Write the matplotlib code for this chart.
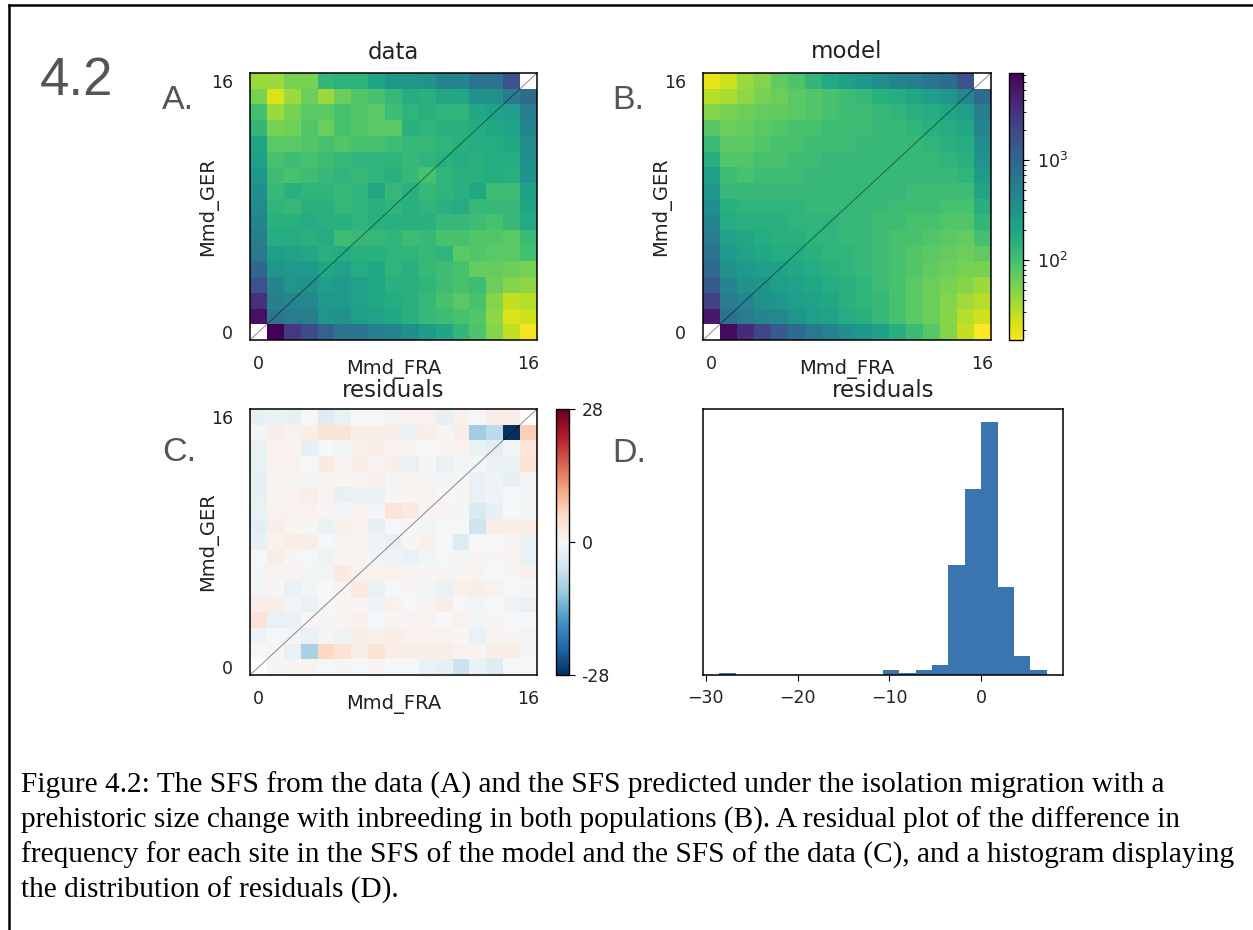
import numpy as np
import matplotlib.pyplot as plt
from matplotlib.colors import LogNorm, Normalize
from matplotlib.lines import Line2D

M = np.nan  # fixed-site corners, masked out

# log10 of site counts; rows run from Mmd_GER = 16 (top) down to 0
data_log10 = [
    [1.6, 1.6, 1.75, 1.75, 2.1, 2.15, 2.15, 2.3, 2.45, 2.45, 2.5, 2.7, 2.65, 2.85, 2.85, 3.2, M],
    [1.75, 1.35, 1.6, 1.8, 1.6, 1.8, 1.93, 1.98, 2.08, 2.23, 2.18, 2.28, 2.28, 2.53, 2.53, 2.77, 2.95],
    [2.0, 1.6, 1.75, 1.88, 1.88, 1.98, 1.93, 1.88, 2.03, 2.13, 2.18, 2.13, 2.13, 2.28, 2.33, 2.38, 2.75],
    [2.1, 1.75, 1.78, 1.93, 1.8, 1.98, 1.93, 1.88, 1.88, 2.18, 2.13, 2.18, 2.18, 2.23, 2.28, 2.33, 2.65],
    [2.3, 1.88, 1.88, 1.93, 1.98, 1.93, 1.98, 1.98, 2.03, 2.08, 2.08, 2.13, 2.18, 2.23, 2.23, 2.28, 2.6],
    [2.35, 1.98, 2.03, 1.98, 2.03, 2.08, 2.13, 2.13, 2.13, 2.08, 2.13, 2.18, 2.23, 2.18, 2.23, 2.23, 2.55],
    [2.45, 2.03, 1.98, 2.03, 2.08, 2.13, 2.08, 2.13, 2.18, 2.08, 1.98, 2.13, 2.18, 2.18, 2.23, 2.18, 2.5],
    [2.55, 2.08, 2.18, 2.13, 2.13, 2.08, 2.13, 2.28, 2.08, 2.18, 2.08, 2.13, 2.18, 2.28, 2.03, 2.03, 2.35],
    [2.6, 2.13, 2.08, 2.18, 2.18, 2.08, 2.13, 2.18, 2.13, 2.18, 2.13, 2.18, 2.23, 2.08, 2.08, 2.08, 2.3],
    [2.65, 2.18, 2.18, 2.23, 2.18, 2.18, 2.13, 2.18, 2.18, 2.18, 2.18, 2.08, 2.08, 2.03, 1.98, 2.08, 2.25],
    [2.75, 2.23, 2.23, 2.18, 2.23, 2.03, 2.08, 2.08, 2.13, 2.03, 2.08, 1.98, 1.98, 1.93, 1.93, 1.88, 2.05],
    [2.8, 2.38, 2.33, 2.28, 2.18, 2.23, 2.18, 2.18, 2.13, 2.13, 2.08, 2.13, 1.88, 1.93, 1.88, 1.88, 2.0],
    [3.0, 2.48, 2.43, 2.43, 2.28, 2.33, 2.23, 2.28, 2.13, 2.18, 2.08, 2.03, 1.98, 1.83, 1.83, 1.8, 1.75],
    [3.2, 2.67, 2.48, 2.53, 2.38, 2.43, 2.33, 2.28, 2.18, 2.18, 2.13, 2.03, 1.98, 2.03, 1.8, 1.7, 1.65],
    [3.5, 2.72, 2.67, 2.62, 2.43, 2.43, 2.33, 2.28, 2.23, 2.18, 2.08, 1.98, 1.88, 1.98, 1.7, 1.45, 1.5],
    [3.75, 2.82, 2.77, 2.77, 2.48, 2.53, 2.38, 2.33, 2.28, 2.18, 2.08, 2.03, 1.98, 1.93, 1.65, 1.35, 1.4],
    [M, 3.87, 3.45, 3.25, 3.05, 2.85, 2.85, 2.75, 2.65, 2.55, 2.4, 2.3, 2.1, 1.95, 1.7, 1.45, 1.25],
]

model_log10 = [
    [1.3, 1.4, 1.6, 1.7, 1.85, 1.95, 2.1, 2.25, 2.35, 2.45, 2.55, 2.65, 2.75, 2.85, 2.95, 3.2, M],
    [1.5, 1.55, 1.65, 1.75, 1.8, 1.88, 1.93, 1.98, 2.03, 2.08, 2.18, 2.23, 2.28, 2.38, 2.48, 2.62, 2.95],
    [1.7, 1.75, 1.8, 1.83, 1.85, 1.88, 1.93, 1.98, 2.03, 2.03, 2.08, 2.13, 2.18, 2.23, 2.28, 2.38, 2.75],
    [1.9, 1.8, 1.83, 1.88, 1.93, 1.98, 1.98, 2.03, 2.03, 2.03, 2.08, 2.08, 2.13, 2.18, 2.23, 2.28, 2.65],
    [2.05, 1.88, 1.88, 1.93, 1.98, 1.98, 2.03, 2.03, 2.03, 2.08, 2.08, 2.08, 2.08, 2.13, 2.18, 2.23, 2.55],
    [2.2, 1.93, 1.93, 1.98, 1.98, 2.03, 2.03, 2.08, 2.08, 2.08, 2.08, 2.08, 2.08, 2.08, 2.13, 2.18, 2.5],
    [2.35, 2.03, 1.98, 2.03, 2.03, 2.03, 2.08, 2.08, 2.08, 2.08, 2.08, 2.08, 2.08, 2.08, 2.08, 2.13, 2.4],
    [2.45, 2.08, 2.08, 2.08, 2.08, 2.08, 2.08, 2.08, 2.08, 2.08, 2.08, 2.08, 2.03, 2.03, 2.03, 2.03, 2.3],
    [2.55, 2.18, 2.13, 2.13, 2.13, 2.13, 2.08, 2.08, 2.08, 2.08, 2.08, 2.03, 2.03, 2.03, 1.98, 1.98, 2.2],
    [2.65, 2.23, 2.18, 2.18, 2.18, 2.13, 2.13, 2.13, 2.08, 2.08, 2.03, 2.03, 1.98, 1.98, 1.93, 1.93, 2.1],
    [2.75, 2.33, 2.28, 2.23, 2.18, 2.18, 2.13, 2.13, 2.08, 2.08, 2.03, 1.98, 1.98, 1.93, 1.88, 1.83, 2.0],
    [2.85, 2.43, 2.33, 2.28, 2.23, 2.23, 2.18, 2.13, 2.13, 2.08, 2.03, 1.98, 1.93, 1.88, 1.83, 1.8, 1.85],
    [2.95, 2.53, 2.43, 2.38, 2.33, 2.28, 2.23, 2.18, 2.13, 2.08, 2.03, 1.98, 1.93, 1.85, 1.8, 1.75, 1.75],
    [3.1, 2.67, 2.53, 2.48, 2.38, 2.33, 2.28, 2.23, 2.18, 2.13, 2.03, 1.98, 1.88, 1.8, 1.75, 1.68, 1.6],
    [3.35, 2.77, 2.67, 2.53, 2.48, 2.38, 2.33, 2.28, 2.18, 2.13, 2.08, 1.98, 1.88, 1.8, 1.7, 1.58, 1.5],
    [3.7, 2.87, 2.77, 2.67, 2.62, 2.48, 2.38, 2.33, 2.23, 2.18, 2.08, 1.98, 1.88, 1.8, 1.68, 1.5, 1.4],
    [M, 3.8, 3.55, 3.3, 3.1, 2.95, 2.8, 2.7, 2.55, 2.45, 2.35, 2.2, 2.05, 1.9, 1.7, 1.45, 1.2],
]

# Anscombe residuals (model vs data), same row order
resid_rows = [
    [-2.2, -2.0, -2.2, -0.3, -4.0, -2.0, -0.3, -0.3, -0.8, 1.2, 1.2, -2.2, 1.5, -0.3, 2.0, 2.0, M],
    [-0.8, 2.0, 1.2, 2.0, 4.2, 3.8, 2.0, 2.0, 2.0, -2.0, 2.0, 0.3, 2.0, -9.8, -7.5, -28.5, 7.1],
    [-2.0, 1.2, 0.8, -2.2, -0.3, -0.8, 1.5, 2.0, 0.8, 0.3, -0.3, 0.3, 1.2, -2.0, -3.0, -0.8, 3.6],
    [-2.0, 1.2, 1.2, -0.3, 2.5, 0.8, 2.0, 0.8, 2.0, -2.0, 0.3, -2.0, -0.8, -0.3, -2.0, -2.0, 4.0],
    [-2.2, 0.8, 0.3, -0.8, 0.8, 0.3, 0.8, 1.5, 0.3, 0.8, 0.3, -0.8, 0.3, -2.0, -1.2, -2.5, 0.3],
    [-2.2, 0.8, 1.2, 2.0, 0.8, -2.2, -2.0, -2.0, 0.3, 0.8, 0.8, -0.3, 0.3, -2.0, -1.2, -0.3, -0.8],
    [-2.0, 1.2, 1.2, 1.2, 0.3, -0.8, 1.2, -0.8, 3.7, 2.5, 0.3, 0.8, -0.8, -4.2, -2.5, -0.3, -0.8],
    [-3.0, 2.0, 0.8, 0.3, -2.0, 1.5, 1.2, -2.5, -0.3, 0.3, -0.8, -0.3, -0.3, -5.8, 2.0, 2.0, 2.0],
    [-2.2, 1.2, 2.0, 2.0, -0.3, 0.8, 0.3, -1.2, -2.0, 0.3, 1.5, -0.3, -3.8, -0.3, -0.3, 0.3, -2.0],
    [-0.3, 2.0, 0.3, -0.3, -1.2, 0.3, 0.8, -0.8, -1.2, -2.0, -0.8, -0.3, -0.8, 0.3, 0.3, 0.8, -2.0],
    [-0.8, 0.8, 0.8, -0.8, -0.8, 2.5, 1.2, 1.2, 1.2, 0.8, 0.3, 0.8, 0.3, 0.8, -0.3, 0.3, 1.5],
    [-0.8, 0.3, -2.0, -0.8, -0.3, 0.8, 2.5, -2.0, -0.3, 0.3, -0.8, -2.0, 1.5, 2.0, 1.2, -0.3, 0.3],
    [2.0, 2.0, -0.8, -2.0, -0.3, 0.3, 0.8, -1.2, 1.2, -0.3, 0.8, 2.0, -0.3, -0.8, -0.3, -1.2, -2.0],
    [4.0, -2.0, -2.0, 0.3, 0.3, 0.8, 1.5, -0.3, 0.3, 0.8, 0.8, -0.3, 1.2, -0.8, 0.3, -0.3, -0.3],
    [-1.2, -0.3, -0.8, -2.0, -0.8, -1.2, 2.0, 1.5, 2.0, 1.2, 1.2, 1.2, 0.3, -2.0, 0.8, 0.3, -0.8],
    [-0.3, 0.3, -2.0, -9.2, 5.9, 4.0, 2.0, 3.8, 2.0, 2.0, 2.0, 2.0, 1.2, 0.8, 2.0, 2.0, 0.3],
    [M, 0.3, 0.8, 0.8, -0.3, 0.3, -0.3, 0.8, -0.3, -0.3, -2.0, -2.5, -6.2, -2.0, -4.0, -0.3, -0.3],
]

axis_ticks = [0, 16]
pop_x = "Mmd_FRA"
pop_y = "Mmd_GER"

caption_lines = [
    "Figure 4.2: The SFS from the data (A) and the SFS predicted under the isolation migration with a",
    "prehistoric size change with inbreeding in both populations (B). A residual plot of the difference in",
    "frequency for each site in the SFS of the model and the SFS of the data (C), and a histogram displaying",
    "the distribution of residuals (D).",
]


def to_grid(rows):
    return np.ma.masked_invalid(np.flipud(np.array(rows, dtype=float)))


data = 10 ** to_grid(data_log10)
model = 10 ** to_grid(model_log10)
resid = to_grid(resid_rows)
flat_resid = resid.compressed()

sfs_norm = LogNorm(vmin=min(data.min(), model.min()), vmax=max(data.max(), model.max()))
rmax = np.abs(resid).max()
resid_norm = Normalize(-rmax, rmax)

W, H = 1253, 930
fig = plt.figure(figsize=(W / 100, H / 100), dpi=100)
txt = "#222222"
grey = "#555555"


def px_axes(x0, y0, x1, y1):
    return fig.add_axes([x0 / W, 1 - y1 / H, (x1 - x0) / W, (y1 - y0) / H])


def heat(ax, grid, cmap, norm, title, tpad):
    size = grid.shape[0]
    mesh = ax.pcolormesh(grid, cmap=cmap, norm=norm, edgecolors="none")
    ax.plot([0, size], [0, size], color="k", lw=0.7, alpha=0.45)
    ax.set_xlim(0, size)
    ax.set_ylim(0, size)
    pos = [t + 0.5 for t in axis_ticks]
    labs = [str(t) for t in axis_ticks]
    ax.set_xticks(pos, labs)
    ax.set_yticks(pos, labs)
    ax.tick_params(length=0, labelsize=12.5, labelcolor=txt)
    ax.tick_params(axis="x", pad=10.5)
    ax.tick_params(axis="y", pad=12)
    ax.set_title(title, fontsize=16.5, pad=tpad, color=txt)
    ax.set_xlabel(pop_x, fontsize=14, color=txt)
    ax.xaxis.set_label_coords(0.5, -0.072)
    ax.set_ylabel(pop_y, fontsize=14, color=txt)
    ax.yaxis.set_label_coords(-0.112, 0.5)
    for s in ax.spines.values():
        s.set_linewidth(1.1)
    return mesh


ax_a = px_axes(250, 73, 537, 340)
heat(ax_a, data, "viridis_r", sfs_norm, "data", 10)

ax_b = px_axes(703, 73, 991, 340)
mesh_b = heat(ax_b, model, "viridis_r", sfs_norm, "model", 10.5)
cax_b = px_axes(1009, 73, 1023, 340)
cb_b = fig.colorbar(mesh_b, cax=cax_b)
cb_b.ax.tick_params(which="major", length=4, labelsize=12.5, pad=6, labelcolor=txt)
cb_b.ax.tick_params(which="minor", length=2.5)
cb_b.outline.set_linewidth(1)

ax_c = px_axes(250, 409, 537, 675)
mesh_c = heat(ax_c, resid, "RdBu_r", resid_norm, "residuals", 8.5)
cax_c = px_axes(556, 409, 569, 675)
cb_c = fig.colorbar(mesh_c, cax=cax_c)
cb_c.set_ticks([-rmax, 0, rmax], labels=[format(v, ".2g") for v in (-rmax, 0, rmax)])
cb_c.ax.tick_params(length=4, labelsize=12.5, pad=5, labelcolor=txt)
cb_c.outline.set_linewidth(1)

ax_d = px_axes(703, 409, 1063, 675)
ax_d.hist(flat_resid, bins=20, density=True, color="#3a75b0")
ax_d.set_yticks([])
ax_d.tick_params(axis="x", length=4, labelsize=12.5, pad=6, labelcolor=txt)
ax_d.set_title("residuals", fontsize=16.5, pad=8.5, color=txt)
for s in ax_d.spines.values():
    s.set_linewidth(1.1)

# panel letters and figure number
fig.text(40 / W, 1 - 95 / H, "4.2", fontsize=38, color=grey, family="Liberation Sans", va="baseline")
for lab, x, y in [("A.", 162, 109), ("B.", 612, 109), ("C.", 162, 461), ("D.", 612, 462)]:
    fig.text(x / W, 1 - y / H, lab, fontsize=24.5, color=grey, family="Liberation Sans", va="baseline")

for i, line in enumerate(caption_lines):
    fig.text(21 / W, 1 - (793 + 35 * i) / H, line, fontsize=21.2, family="Liberation Serif",
             color="black", va="baseline")

# page frame edges
fig.add_artist(Line2D([8.5 / W, 1], [1 - 5.5 / H, 1 - 5.5 / H], color="black", lw=1.8,
                      transform=fig.transFigure))
fig.add_artist(Line2D([8.5 / W, 8.5 / W], [0, 1 - 5.5 / H], color="black", lw=1.8,
                      transform=fig.transFigure))

fig.savefig("out.png", dpi=100)
